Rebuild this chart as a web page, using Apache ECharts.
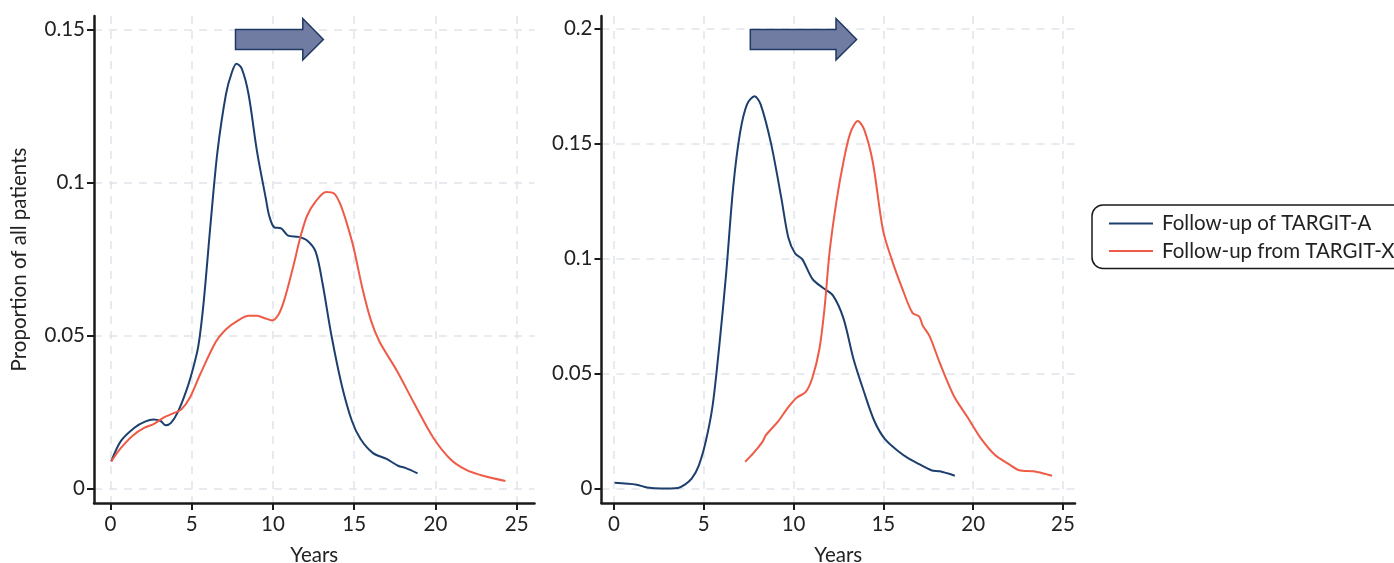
<!DOCTYPE html>
<html>
<head>
<meta charset="utf-8">
<script src="https://cdn.jsdelivr.net/npm/echarts@6/dist/echarts.min.js"></script>
<style>
  html, body { margin: 0; padding: 0; background: #fff; }
  #chart { width: 1394px; height: 563px; }
</style>
</head>
<body>
<div id="chart"></div>
<script>
// data: [years, proportion]
const leftTargitA = [
  [0.04, 0.0088], [0.64, 0.0155], [1.49, 0.0199], [2.12, 0.0218], [2.65, 0.0225],
  [3.08, 0.022], [3.4, 0.0206], [3.72, 0.0214], [4.14, 0.0249], [4.67, 0.032],
  [5.1, 0.0396], [5.41, 0.0467], [5.73, 0.0608], [6.16, 0.0867], [6.58, 0.110],
  [7.11, 0.129], [7.47, 0.136], [7.75, 0.1388], [8.07, 0.1373], [8.49, 0.129],
  [9.02, 0.110], [9.55, 0.095], [9.77, 0.089], [10.08, 0.0853], [10.5, 0.085],
  [10.93, 0.0826], [11.57, 0.0822], [12.1, 0.081], [12.63, 0.0773], [13.06, 0.0667],
  [13.59, 0.0502], [14.23, 0.0338], [14.86, 0.022], [15.39, 0.0161], [16.14, 0.0116],
  [16.99, 0.0096], [17.73, 0.0073], [18.15, 0.0067], [18.9, 0.0049]
];
const leftTargitX = [
  [0.04, 0.0088], [0.64, 0.0132], [1.38, 0.0173], [2.12, 0.0199], [2.65, 0.021],
  [3.29, 0.0232], [3.82, 0.0244], [4.35, 0.0258], [4.88, 0.0296], [5.52, 0.0373],
  [6.48, 0.0479], [7.11, 0.052], [7.86, 0.0549], [8.49, 0.0564], [9.02, 0.0564],
  [9.55, 0.0555], [9.94, 0.0549], [10.36, 0.057], [10.72, 0.062], [11.25, 0.0726],
  [11.68, 0.082], [12.1, 0.0891], [12.63, 0.0938], [13.27, 0.0969], [13.76, 0.0964],
  [14.12, 0.0932], [14.54, 0.0867], [14.97, 0.0785], [15.5, 0.0655], [16.03, 0.0549],
  [16.56, 0.0479], [17.62, 0.0385], [18.68, 0.0279], [19.85, 0.0167], [20.91, 0.0096],
  [21.87, 0.0061], [22.93, 0.0041], [24.31, 0.0024]
];
const rightTargitA = [
  [0.04, 0.0025], [1.27, 0.0017], [1.84, 0.0005], [2.61, 0.0], [3.57, 0.0003],
  [3.95, 0.0017], [4.34, 0.0044], [4.72, 0.0099], [5.1, 0.020], [5.49, 0.0357],
  [5.87, 0.0623], [6.25, 0.0936], [6.64, 0.131], [7.02, 0.1546], [7.41, 0.1671],
  [7.83, 0.1706], [8.17, 0.1671], [8.75, 0.15], [9.32, 0.1264], [9.71, 0.1092],
  [10.09, 0.1022], [10.48, 0.0998], [11.05, 0.0912], [11.63, 0.0873], [12.2, 0.0839],
  [12.78, 0.074], [13.35, 0.056], [13.93, 0.0419], [14.5, 0.0294], [15.08, 0.0216],
  [15.85, 0.0161], [16.42, 0.013], [17.0, 0.0106], [17.67, 0.008], [18.15, 0.0075],
  [18.98, 0.0056]
];
const rightTargitX = [
  [7.31, 0.0117], [7.79, 0.0156], [8.27, 0.0203], [8.46, 0.0232], [9.13, 0.0291],
  [9.71, 0.0354], [10.19, 0.0396], [10.67, 0.0419], [11.05, 0.0482], [11.44, 0.0607],
  [11.72, 0.0779], [12.01, 0.103], [12.39, 0.1249], [12.78, 0.1421], [13.16, 0.1546],
  [13.58, 0.1598], [13.93, 0.1562], [14.41, 0.1421], [14.98, 0.1124], [15.46, 0.0998],
  [16.04, 0.0873], [16.62, 0.0764], [17.0, 0.0748], [17.19, 0.0709], [17.58, 0.0662],
  [18.15, 0.0545], [18.92, 0.0404], [19.69, 0.031], [20.45, 0.0216], [21.22, 0.0146],
  [21.99, 0.0106], [22.56, 0.008], [23.33, 0.0075], [23.91, 0.0066], [24.39, 0.0056]
];

const xTicks = [0, 5, 10, 15, 20, 25];
const leftYTicks = [0, 0.05, 0.1, 0.15];
const rightYTicks = [0, 0.05, 0.1, 0.15, 0.2];
const seriesNames = ["Follow-up of TARGIT-A", "Follow-up from TARGIT-X"];

const BLUE = "#1d3f6e";
const RED = "#ee5b47";
const INK = "#1a1a1a";
const FONT = "Lato, 'Open Sans', sans-serif";
const FS = 20.5;

function xAxisFor(gridIndex, min, max) {
  return {
    type: "value",
    gridIndex: gridIndex,
    min: min,
    max: max,
    name: "Years",
    nameLocation: "middle",
    nameGap: 42,
    nameTextStyle: { fontSize: FS, color: "#222", fontFamily: FONT },
    axisLine: { onZero: false, lineStyle: { color: INK, width: 2.5 } },
    axisTick: { show: true, length: 7, customValues: xTicks, lineStyle: { color: INK, width: 2 } },
    axisLabel: { customValues: xTicks, margin: 11, fontSize: FS, color: "#222", fontFamily: FONT },
    splitLine: { show: true, lineStyle: { color: "#dfe5eb", type: [8, 7], width: 1.5 } },
  };
}

function yAxisFor(gridIndex, min, max, ticks, name) {
  return {
    type: "value",
    gridIndex: gridIndex,
    min: min,
    max: max,
    name: name,
    nameLocation: "middle",
    nameGap: 64,
    nameTextStyle: { fontSize: FS, color: "#222", fontFamily: FONT },
    axisLine: { show: true, onZero: false, lineStyle: { color: INK, width: 2.5 } },
    axisTick: { show: true, length: 7, customValues: ticks, lineStyle: { color: INK, width: 2 } },
    axisLabel: { customValues: ticks, margin: 9, fontSize: FS, color: "#222", fontFamily: FONT },
    splitLine: { show: true, lineStyle: { color: "#dfe5eb", type: [8, 7], width: 1.5 } },
  };
}

function line(name, data, idx, color) {
  return {
    name: name,
    type: "line",
    xAxisIndex: idx,
    yAxisIndex: idx,
    data: data,
    smooth: 0.3,
    symbol: "none",
    lineStyle: { color: color, width: 2 },
    itemStyle: { color: color },
    z: 3,
  };
}

// arrow annotation (pixel shape, not data)
function arrow(x0, tip, headX) {
  return {
    type: "polygon",
    z: 10,
    shape: {
      points: [
        [x0, 29.5], [headX, 29.5], [headX, 18.5], [tip, 39.5],
        [headX, 60], [headX, 49.5], [x0, 49.5],
      ],
    },
    style: { fill: "#717ca3", stroke: "#1f3864", lineWidth: 1.5 },
  };
}

const chart = echarts.init(document.getElementById("chart"));

const option = {
  animation: false,
  backgroundColor: "#fff",
  textStyle: { fontFamily: FONT },
  grid: [
    { left: 94, top: 16, width: 440.5, height: 487, containLabel: false, outerBoundsMode: "none" },
    { left: 601.5, top: 16, width: 473.5, height: 487, containLabel: false, outerBoundsMode: "none" },
  ],
  xAxis: [xAxisFor(0, -1.02, 26.1), xAxisFor(1, -0.69, 25.67)],
  yAxis: [
    yAxisFor(0, -0.0048, 0.1544, leftYTicks, "Proportion of all patients"),
    yAxisFor(1, -0.00627, 0.2055, rightYTicks, ""),
  ],
  legend: {
    orient: "vertical",
    left: 1092,
    top: 205,
    padding: [8, 14, 7, 17],
    itemGap: 6.5,
    itemWidth: 44,
    itemHeight: 2,
    icon: "rect",
    borderColor: INK,
    borderWidth: 1.5,
    borderRadius: 11,
    data: seriesNames,
    textStyle: { fontSize: FS, color: "#222", fontFamily: FONT, padding: [0, 0, 0, 4] },
  },
  graphic: [arrow(235.5, 323.4, 302.8), arrow(750.3, 856.6, 836)],
  series: [
    line(seriesNames[0], leftTargitA, 0, BLUE),
    line(seriesNames[1], leftTargitX, 0, RED),
    line(seriesNames[0], rightTargitA, 1, BLUE),
    line(seriesNames[1], rightTargitX, 1, RED),
  ],
};

chart.setOption(option);
</script>
</body>
</html>
